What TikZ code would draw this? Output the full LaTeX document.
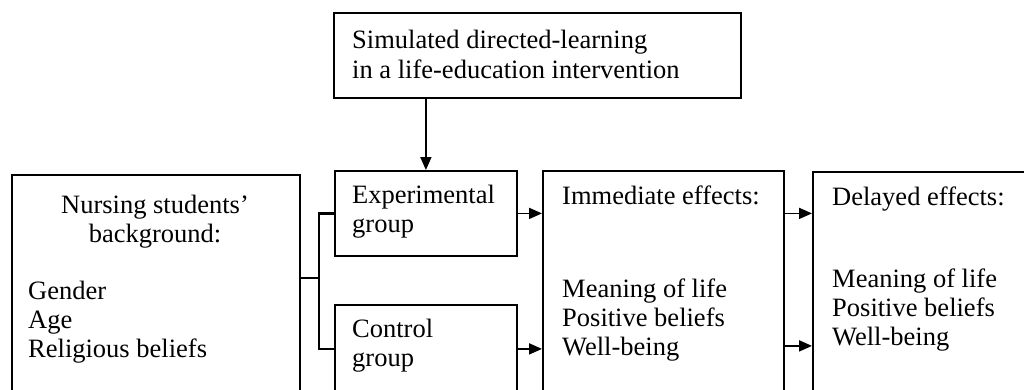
\documentclass[tikz,border=0pt]{standalone}
\usepackage{fontspec}
\setmainfont{Liberation Serif}
\usepackage{tikz}
\usetikzlibrary{arrows.meta,positioning}

\begin{document}
\begin{tikzpicture}[x=1pt, y=-1pt,
    box/.style={draw=black, rectangle, line width=1.8pt, inner sep=0pt, anchor=north west},
    txt/.style={inner sep=0pt, align=left, font=\fontsize{26.5}{29}\selectfont},
    line/.style={draw=black, line width=1.8pt, -{Triangle[length=13pt,width=11pt]}},
    split/.style={draw=black, line width=2.6pt}
]
    \useasboundingbox (0,0) rectangle (1024,389);
    \clip (0,0) rectangle (1024,389);

    \node [box, minimum width=407pt, minimum height=85pt] (train) at (333,12) {};
    \node [box, minimum width=288pt, minimum height=246pt] (bg) at (11,174) {};
    \node [box, minimum width=182pt, minimum height=85pt] (exp) at (334,170) {};
    \node [box, minimum width=182pt, minimum height=88pt] (ctrl) at (334,304) {};
    \node [box, minimum width=241pt, minimum height=250pt] (imm) at (542,170) {};
    \node [box, minimum width=240pt, minimum height=250pt] (del) at (812,171) {};

    \node [txt, anchor=base west] (traintxt) at (352,78) {Simulated directed-learning\\[1pt]in a life-education intervention};
    \node [txt, anchor=base, align=center] (bgtitle) at (155,242) {Nursing students’\\background:};
    \node [txt, anchor=base west] (bglist) at (28,357) {Gender\\Age\\Religious beliefs};
    \node [txt, anchor=base west] (exptxt) at (352,232) {Experimental\\group};
    \node [txt, anchor=base west] (ctrltxt) at (352,366) {Control\\group};
    \node [txt, anchor=base west] (immtxt) at (562,355) {Immediate effects:\\[64pt]Meaning of life\\Positive beliefs\\Well-being};
    \node [txt, anchor=base west] (deltxt) at (832,345) {Delayed effects:\\[53pt]Meaning of life\\Positive beliefs\\Well-being};

    \coordinate (fork) at (319,278);
    \path [split] (bg.east |- fork) -- (fork);
    \path [split] (exp.west) -| (fork) |- (ctrl.west);

    \path [line] (train.south -| exp.north) -- (exp.north);
    \path [line] (exp.east) -- (exp.east -| imm.west);
    \path [line] (ctrl.east) -- (ctrl.east -| imm.west);
    \path [line] (imm.east |- exp.east) -- (del.west |- exp.east);
    \path [line] ([yshift=3pt]imm.east |- ctrl.east) -- ([yshift=3pt]del.west |- ctrl.east);
\end{tikzpicture}
\end{document}
